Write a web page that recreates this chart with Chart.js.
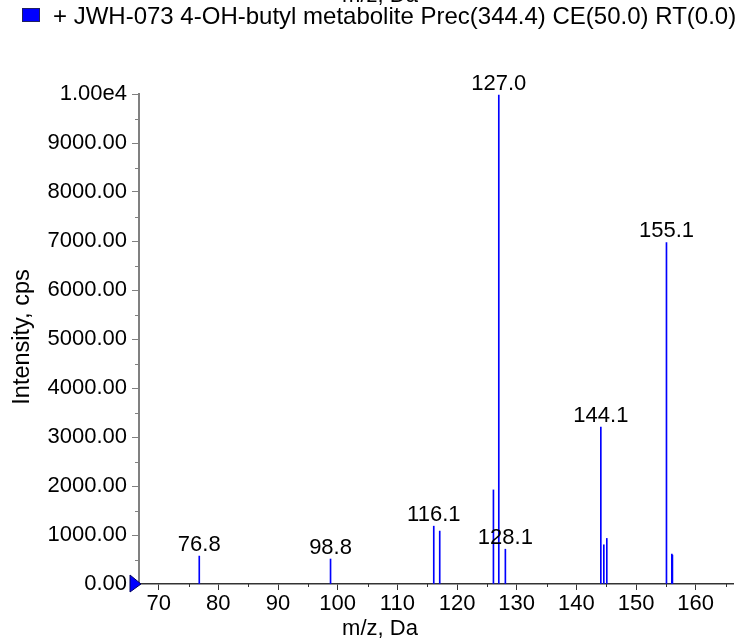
<!DOCTYPE html>
<html>
<head>
<meta charset="utf-8">
<script src="https://cdn.jsdelivr.net/npm/chart.js@4.4.1/dist/chart.umd.min.js"></script>
<style>
  html, body { margin: 0; padding: 0; background: #fff; }
  #wrap { width: 740px; height: 641px; position: relative; }
</style>
</head>
<body>
<div id="wrap"><canvas id="c" width="740" height="641"></canvas></div>
<script>
// ── Data ──
const peakMz        = [76.8, 98.8, 116.1, 117.1, 126.1, 127.0, 128.1, 144.1, 144.6, 145.1, 155.1, 156.0, 156.1];
const peakIntensity = [570, 510, 1180, 1080, 1920, 9980, 710, 3200, 800, 930, 6970, 610, 590];
const labelledMz    = [76.8, 98.8, 116.1, 127.0, 128.1, 144.1, 155.1];
const xMajorTicks   = [70, 80, 90, 100, 110, 120, 130, 140, 150, 160];
const xMinorTicks   = [75, 85, 95, 105, 115, 125, 135, 145, 155, 165];
const yMinorTicks   = [500, 1500, 2500, 3500, 4500, 5500, 6500, 7500, 8500, 9500];
const legendText    = '+ JWH-073 4-OH-butyl metabolite Prec(344.4) CE(50.0) RT(0.0)';

const FONT = 'Liberation Sans, Arial, sans-serif';
const BLUE = '#0000FF';

// minor ticks, peak labels, axis titles, legend, marker
const decorations = {
    id: 'decorations',
    afterDraw(chart) {
        const { ctx, chartArea: a, scales: { x, y } } = chart;
        ctx.save();

        // minor ticks
        ctx.strokeStyle = '#808080';
        ctx.lineWidth = 1;
        ctx.beginPath();
        yMinorTicks.forEach(v => {
            const py = Math.round(y.getPixelForValue(v)) + 0.5;
            ctx.moveTo(a.left - 4, py); ctx.lineTo(a.left, py);
        });
        ctx.stroke();
        ctx.strokeStyle = '#333';
        ctx.beginPath();
        xMinorTicks.forEach(v => {
            const px = Math.round(x.getPixelForValue(v)) + 0.5;
            ctx.moveTo(px, a.bottom); ctx.lineTo(px, a.bottom + 3);
        });
        ctx.stroke();

        // peak labels
        ctx.fillStyle = '#000';
        ctx.font = '22px ' + FONT;
        ctx.textAlign = 'center';
        ctx.textBaseline = 'alphabetic';
        labelledMz.forEach(m => {
            const i = peakMz.indexOf(m);
            const px = x.getPixelForValue(m);
            const py = y.getPixelForValue(peakIntensity[i]);
            ctx.fillText(m.toFixed(1), px, py - 5);
        });

        // axis titles
        ctx.fillText('m/z, Da', 380, 635);
        ctx.fillText('m/z, Da', 380, 2);
        ctx.save();
        ctx.font = '23.5px ' + FONT;
        ctx.translate(29, 337);
        ctx.rotate(-Math.PI / 2);
        ctx.fillText('Intensity, cps', 0, 0);
        ctx.restore();

        // legend
        ctx.fillStyle = BLUE;
        ctx.fillRect(22, 8, 18, 14);
        ctx.strokeStyle = '#202060';
        ctx.strokeRect(22.5, 8.5, 17, 13);
        ctx.fillStyle = '#000';
        ctx.font = '24px ' + FONT;
        ctx.textAlign = 'left';
        ctx.fillText(legendText, 53, 24);

        // zero marker
        const zy = y.getPixelForValue(0);
        ctx.fillStyle = BLUE;
        ctx.strokeStyle = '#000060';
        ctx.beginPath();
        ctx.moveTo(a.left - 9, zy - 9);
        ctx.lineTo(a.left + 2, zy);
        ctx.lineTo(a.left - 9, zy + 8);
        ctx.closePath();
        ctx.fill();
        ctx.stroke();

        ctx.restore();
    }
};

new Chart(document.getElementById('c'), {
    type: 'bar',
    data: {
        datasets: [{
            data: peakMz.map((m, i) => ({ x: m, y: peakIntensity[i] })),
            backgroundColor: BLUE,
            borderWidth: 0,
            barThickness: 1,
        }],
    },
    options: {
        responsive: false,
        animation: false,
        layout: { padding: { top: 94, right: 7, left: 0, bottom: 0 } },
        plugins: { legend: { display: false }, tooltip: { enabled: false } },
        scales: {
            x: {
                type: 'linear',
                offset: false,
                min: 66.7, max: 166.25,
                afterFit(s) { s.height = 57; },
                afterBuildTicks(s) { s.ticks = xMajorTicks.map(v => ({ value: v })); },
                ticks: { color: '#000', font: { family: FONT, size: 22 }, padding: 1, maxRotation: 0, autoSkip: false },
                grid: { offset: false, drawOnChartArea: false, drawTicks: true, tickLength: 6, tickColor: '#333' },
                border: { display: true, color: '#333', width: 1.5 },
            },
            y: {
                min: 0, max: 10000,
                afterFit(s) { s.width = 139; },
                ticks: {
                    stepSize: 1000,
                    color: '#000',
                    font: { family: FONT, size: 22 },
                    padding: 5,
                    callback: v => v === 10000 ? '1.00e4' : v.toFixed(2),
                },
                grid: { drawOnChartArea: false, drawTicks: true, tickLength: 7, tickColor: '#808080' },
                border: { display: true, color: '#808080', width: 2 },
            },
        },
    },
    plugins: [decorations],
});
</script>
</body>
</html>
